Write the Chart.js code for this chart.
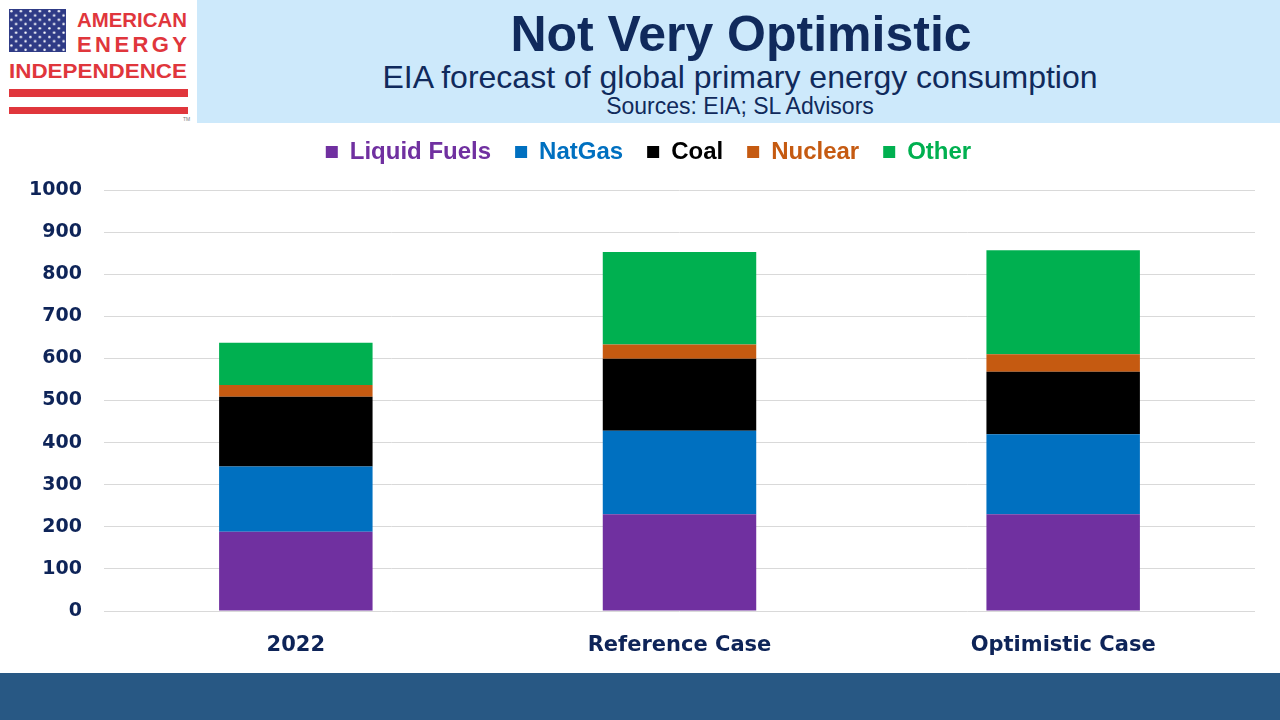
<!DOCTYPE html>
<html>
<head>
<meta charset="utf-8">
<script src="https://cdn.jsdelivr.net/npm/chart.js@4.4.1/dist/chart.umd.min.js"></script>
<style>
  html, body { margin: 0; padding: 0; background: #ffffff; }
  body { width: 1280px; height: 720px; position: relative; overflow: hidden; font-family: "Liberation Sans", Arial, sans-serif; }
  #band { position: absolute; left: 197px; top: 0; width: 1083px; height: 123px; background: #cde9fb; }
  #header { position: absolute; left: 0; top: 0; }
  #footer { position: absolute; left: 0; top: 673px; width: 1280px; height: 47px; background: #285884; }
  #wrap { position: absolute; left: 0; top: 116px; width: 1280px; height: 557px; z-index: 2; }
</style>
</head>
<body>
<div id="band"></div>
<svg id="header" width="1280" height="124" xmlns="http://www.w3.org/2000/svg">
  <defs>
    <pattern id="stars" x="9" y="9" width="9.5" height="8.6" patternUnits="userSpaceOnUse">
      <circle cx="2.4" cy="2.2" r="1.2" fill="#ffffff"/>
      <circle cx="7.1" cy="6.5" r="1.2" fill="#ffffff"/>
    </pattern>
  </defs>
  <rect x="9" y="9" width="57" height="43" fill="#2f3b86"/>
  <rect x="9" y="9" width="57" height="43" fill="url(#stars)"/>
  <text x="77" y="27" font-family="Liberation Sans, Arial" font-weight="bold" font-size="21" fill="#e0363c" textLength="110" lengthAdjust="spacingAndGlyphs">AMERICAN</text>
  <text x="77" y="52" font-family="Liberation Sans, Arial" font-weight="bold" font-size="22" fill="#e0363c" textLength="110" lengthAdjust="spacing">ENERGY</text>
  <text x="9" y="78" font-family="Liberation Sans, Arial" font-weight="bold" font-size="21" fill="#e0363c" textLength="178" lengthAdjust="spacingAndGlyphs">INDEPENDENCE</text>
  <rect x="9" y="89" width="179" height="8" fill="#e0363c"/>
  <rect x="9" y="107" width="179" height="7" fill="#e0363c"/>
  <text x="183" y="121" font-family="Liberation Sans, Arial" font-size="5" fill="#777777">TM</text>
  <text x="741" y="51" text-anchor="middle" font-family="Liberation Sans, Arial" font-weight="bold" font-size="50" fill="#102a5c">Not Very Optimistic</text>
  <text x="740" y="88" text-anchor="middle" font-family="Liberation Sans, Arial" font-size="32" fill="#102a5c">EIA forecast of global primary energy consumption</text>
  <text x="740" y="114" text-anchor="middle" font-family="Liberation Sans, Arial" font-size="23" fill="#102a5c">Sources: EIA; SL Advisors</text>
</svg>
<div id="wrap"><canvas id="c"></canvas></div>
<div id="footer"></div>
<script>
const categories = ['2022', 'Reference Case', 'Optimistic Case'];
const liquidFuels = [188, 230, 230];
const natGas = [155, 198, 190];
const coal = [166, 171, 148];
const nuclear = [28, 34, 42];
const other = [100, 220, 247];
const yTicks = [0, 100, 200, 300, 400, 500, 600, 700, 800, 900, 1000];

const seriesNames = ['Liquid Fuels', 'NatGas', 'Coal', 'Nuclear', 'Other'];
const seriesColors = ['#7030a0', '#0070c0', '#000000', '#c55a11', '#00b050'];
const seriesValues = [liquidFuels, natGas, coal, nuclear, other];

const axisColor = '#0e2458';

const legendTweak = {
  id: 'legendTweak',
  beforeInit(chart) {
    const origFit = chart.legend.fit;
    chart.legend.fit = function () {
      origFit.call(this);
      this.height = 74;
    };
  },
  afterLayout(chart) {
    chart.legend.left += 16;
    chart.legend.right += 16;
  }
};

new Chart(document.getElementById('c'), {
  type: 'bar',
  data: {
    labels: categories,
    datasets: seriesNames.map((n, i) => ({
      label: n,
      data: seriesValues[i],
      backgroundColor: seriesColors[i],
      borderWidth: 0,
      categoryPercentage: 1.0,
      barPercentage: 0.4
    }))
  },
  plugins: [legendTweak],
  options: {
    responsive: true,
    maintainAspectRatio: false,
    animation: false,
    layout: { padding: { left: 10, right: 25, top: 0, bottom: 0 } },
    plugins: {
      tooltip: { enabled: false },
      legend: {
        position: 'top',
        labels: {
          boxWidth: 12,
          boxHeight: 12,
          padding: 24,
          font: { family: 'Liberation Sans, Arial', weight: 'bold', size: 24 },
          generateLabels(chart) {
            return chart.data.datasets.map((ds, i) => ({
              text: ds.label,
              fillStyle: ds.backgroundColor,
              strokeStyle: ds.backgroundColor,
              lineWidth: 0,
              fontColor: ds.backgroundColor,
              hidden: false,
              datasetIndex: i
            }));
          }
        }
      }
    },
    scales: {
      x: {
        stacked: true,
        grid: { display: false, drawTicks: false },
        border: { display: false },
        ticks: {
          color: axisColor,
          padding: 22,
          font: { family: 'DejaVu Sans', weight: 'bold', size: 21 }
        },
        afterFit(scale) { scale.height = 62; }
      },
      y: {
        stacked: true,
        min: 0,
        max: 1000,
        afterBuildTicks(scale) { scale.ticks = yTicks.map(v => ({ value: v })); },
        grid: { color: '#d9d9d9', lineWidth: 1, drawTicks: false },
        border: { display: false },
        ticks: {
          color: axisColor,
          padding: 22,
          font: { family: 'DejaVu Sans', weight: 'bold', size: 19 },
          callback: (v) => String(v)
        },
        afterFit(scale) { scale.width = 94; }
      }
    }
  }
});
</script>
</body>
</html>
